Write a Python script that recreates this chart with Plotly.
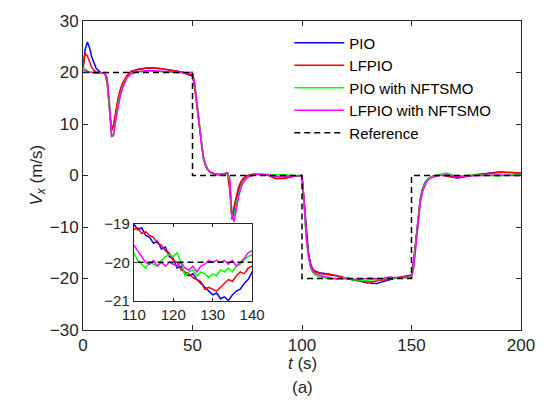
import plotly.graph_objects as go

# time stamps (s)
t = [0, 1, 2, 3, 4, 5, 6, 8, 10, 11, 12, 13, 14, 15, 16, 17, 18, 20, 22, 25, 30, 35, 40, 45, 48, 50,
     51, 52, 53, 54, 55, 56, 57, 58, 60, 62, 64, 66, 67, 68, 69, 70, 71, 72, 73, 75, 78, 80, 85, 88, 92, 96, 100,
     101, 102, 103, 104, 105, 106, 107, 108, 109,
     110, 111, 112, 113, 114, 115, 116, 117, 118, 119, 120, 121, 122, 123, 124, 125, 126, 127, 128, 129,
     130, 131, 132, 133, 134, 135, 136, 137, 138, 139, 140,
     142, 144, 146, 148, 150,
     151, 152, 153, 154, 155, 156, 157, 158, 160, 163, 166, 168, 171, 175, 180, 185, 190, 195, 200]

pio = [20.8, 24.5, 25.9, 24.8, 23.0, 21.7, 20.8, 20.0, 19.9, 18.5, 13.5, 9.0, 9.6, 12.3, 14.6, 16.3, 17.6, 19.3, 20.2, 20.6, 20.9, 20.8, 20.5, 20.1, 19.6, 19.3,
       17.3, 13.8, 9.6, 5.8, 3.4, 1.9, 1.1, 0.7, 0.3, 0.2, 0.2, 0.5, -1.5, -8.5, -7.0, -4.6, -3.0, -1.8, -1.0, -0.2, 0.2, 0.3, 0.0, -0.6, -0.5, -0.1, 0.0,
       -5.0, -11.5, -15.2, -17.3, -18.2, -18.6, -18.8, -18.9, -19.0,
       -19.0, -19.15, -19.1, -19.3, -19.35, -19.5, -19.45, -19.65, -19.6, -19.85, -19.9, -20.15, -20.1, -20.3, -20.35, -20.3, -20.45, -20.55, -20.65, -20.75,
       -20.85, -20.8, -20.95, -20.9, -21.0, -20.85, -20.75, -20.7, -20.55, -20.45, -20.25,
       -20.0, -19.8, -19.7, -19.5, -19.3,
       -16.5, -12.0, -7.5, -4.5, -2.6, -1.5, -0.9, -0.5, -0.1, 0.1, 0.0, -0.2, -0.5, -0.1, 0.2, 0.5, 0.7, 0.6, 0.5]

lfpio = [21.0, 23.7, 23.2, 22.0, 21.0, 20.4, 20.1, 19.9, 19.8, 18.0, 12.5, 8.6, 10.0, 12.8, 15.0, 16.7, 17.9, 19.4, 20.2, 20.6, 20.9, 20.8, 20.5, 20.1, 19.7, 19.5,
         17.0, 13.5, 9.3, 5.6, 3.2, 1.8, 1.0, 0.6, 0.2, 0.1, 0.2, 0.4, -3.0, -8.3, -6.0, -3.8, -2.3, -1.3, -0.6, 0.0, 0.3, 0.3, 0.0, -0.6, -0.6, -0.2, 0.0,
         -5.2, -11.8, -15.4, -17.4, -18.3, -18.7, -18.9, -19.0, -19.1,
         -19.15, -19.1, -19.25, -19.2, -19.3, -19.35, -19.5, -19.55, -19.7, -19.75, -19.95, -20.0, -20.2, -20.25, -20.3, -20.4, -20.45, -20.5, -20.7, -20.65,
         -20.7, -20.75, -20.65, -20.55, -20.45, -20.5, -20.35, -20.25, -20.3, -20.15, -20.1,
         -19.95, -19.8, -19.7, -19.6, -19.4,
         -16.8, -12.3, -7.8, -4.7, -2.7, -1.6, -0.9, -0.5, -0.1, 0.1, -0.1, -0.3, -0.5, -0.2, 0.2, 0.4, 0.6, 0.6, 0.5]

pio_nftsmo = [21.0, 20.6, 20.3, 20.1, 20.0, 19.9, 19.9, 19.8, 19.9, 18.8, 14.0, 7.8, 8.2, 11.3, 13.8, 15.7, 17.2, 19.0, 19.8, 20.1, 20.3, 20.2, 20.0, 19.9, 20.0, 20.1,
              17.8, 14.2, 9.8, 5.9, 3.4, 1.9, 1.0, 0.6, 0.2, 0.0, 0.1, 0.4, -1.0, -8.0, -8.0, -5.5, -3.5, -2.2, -1.2, -0.3, 0.2, 0.4, 0.2, 0.1, 0.2, 0.0, 0.0,
              -5.8, -12.5, -16.0, -18.0, -18.9, -19.3, -19.5, -19.6, -19.7,
              -19.75, -19.95, -20.05, -20.15, -20.0, -20.05, -20.1, -19.95, -19.85, -19.8, -19.85, -19.75, -20.0, -20.35, -20.25, -20.2, -20.35, -20.25, -20.3, -20.4,
              -20.3, -20.35, -20.2, -20.25, -20.15, -20.25, -20.1, -20.05, -19.95, -19.85, -19.8,
              -20.0, -19.9, -19.85, -19.8, -19.7,
              -17.5, -13.0, -8.3, -5.0, -2.9, -1.7, -1.0, -0.5, -0.1, 0.2, 0.5, 0.2, -0.2, 0.0, 0.1, 0.0, -0.1, 0.1, 0.2]

lfpio_nftsmo = [20.5, 20.3, 20.2, 20.1, 20.0, 20.0, 19.9, 19.9, 20.0, 19.0, 14.5, 7.5, 7.8, 10.8, 13.3, 15.3, 16.9, 18.9, 19.8, 20.2, 20.4, 20.3, 20.1, 20.0, 19.9, 19.9,
                18.0, 14.6, 10.3, 6.3, 3.7, 2.1, 1.2, 0.7, 0.3, 0.2, 0.3, 0.5, -0.5, -7.5, -9.0, -6.5, -4.2, -2.6, -1.5, -0.4, 0.1, 0.2, 0.1, -0.2, -0.1, 0.0, 0.0,
                -5.5, -12.2, -15.8, -17.8, -18.6, -19.0, -19.2, -19.4, -19.5,
                -19.55, -19.7, -19.85, -20.0, -20.05, -19.95, -20.1, -20.0, -20.1, -20.0, -20.05, -20.1, -20.0, -20.15, -20.2, -20.1, -20.25, -20.1, -20.05, -19.95,
                -20.0, -19.95, -20.0, -19.95, -20.05, -19.95, -20.1, -20.0, -19.9, -19.75, -19.7,
                -19.8, -19.8, -19.75, -19.7, -19.8,
                -18.0, -14.0, -9.0, -5.5, -3.2, -2.0, -1.2, -0.7, -0.3, 0.0, 0.1, 0.0, -0.2, -0.1, 0.0, 0.1, 0.1, 0.0, 0.0]

ref_t = [0, 50, 50, 100, 100, 150, 150, 200]
ref_v = [20, 20, 0, 0, -20, -20, 0, 0]

series = [("PIO", pio, "#0000ff"), ("LFPIO", lfpio, "#ff0000"),
          ("PIO with NFTSMO", pio_nftsmo, "#00ff00"), ("LFPIO with NFTSMO", lfpio_nftsmo, "#ff00ff")]

FONT = "Liberation Sans, Arial, sans-serif"
AX = "#262626"

fig = go.Figure()
for name, vals, col in series:
    fig.add_trace(go.Scatter(x=t, y=vals, mode="lines", name=name,
                             line=dict(color=col, width=1.5)))
fig.add_trace(go.Scatter(x=ref_t, y=ref_v, mode="lines", name="Reference",
                         line=dict(color="black", width=1.5, dash="6px,4px")))
for name, vals, col in series:
    fig.add_trace(go.Scatter(x=t, y=vals, mode="lines", showlegend=False,
                             line=dict(color=col, width=1.5), xaxis="x2", yaxis="y2"))
fig.add_trace(go.Scatter(x=ref_t, y=ref_v, mode="lines", showlegend=False,
                         line=dict(color="black", width=1.5, dash="6px,4px"), xaxis="x2", yaxis="y2"))

axcommon = dict(showline=True, linecolor=AX, linewidth=1, mirror="ticks", ticks="inside",
                tickcolor=AX, showgrid=False, zeroline=False)

fig.update_layout(
    width=547, height=401,
    margin=dict(l=83, r=24, t=15, b=71),
    paper_bgcolor="white", plot_bgcolor="white",
    font=dict(family=FONT, color=AX),
    xaxis=dict(range=[0, 200], tickvals=[0, 50, 100, 150, 200], ticklen=5,
               tickfont=dict(family=FONT, size=17, color=AX), **axcommon),
    yaxis=dict(range=[-30, 30], tickvals=[-30, -20, -10, 0, 10, 20, 30], ticklen=5,
               tickfont=dict(family=FONT, size=17, color=AX), **axcommon),
    xaxis2=dict(domain=[0.116, 0.386], anchor="y2", range=[110, 140], tickvals=[110, 120, 130, 140], ticklen=3,
                tickfont=dict(family=FONT, size=15, color=AX), **axcommon),
    yaxis2=dict(domain=[0.095, 0.343], anchor="x2", range=[-21, -19], tickvals=[-21, -20, -19], ticklen=3,
                tickfont=dict(family=FONT, size=15, color=AX), **axcommon),
    legend=dict(x=0.471, y=0.982, xanchor="left", yanchor="top", bgcolor="rgba(255,255,255,0)",
                font=dict(family=FONT, size=15, color="black"), itemwidth=50, tracegroupgap=0),
    showlegend=True,
    annotations=[
        dict(text="<i>V</i><sub><i>x</i></sub> (m/s)", xref="paper", yref="paper", x=-0.105, y=0.50,
             textangle=-90, showarrow=False, font=dict(family=FONT, size=17, color=AX), xanchor="center", yanchor="middle"),
        dict(text="<i>t</i> (s)", xref="paper", yref="paper", x=0.5, y=-0.109,
             showarrow=False, font=dict(family=FONT, size=17, color=AX), xanchor="center", yanchor="middle"),
        dict(text="(a)", xref="paper", yref="paper", x=0.5, y=-0.186,
             showarrow=False, font=dict(family=FONT, size=17, color=AX), xanchor="center", yanchor="middle"),
    ],
)

fig.write_html("out.html")
